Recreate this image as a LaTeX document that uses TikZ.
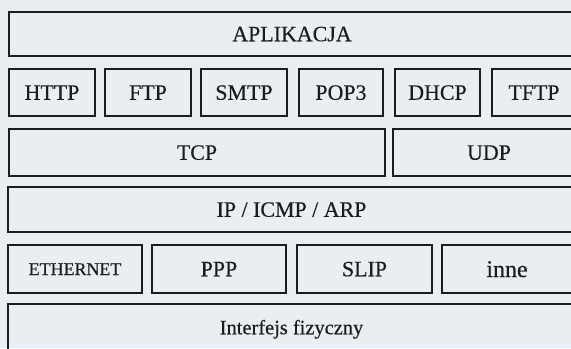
\documentclass[tikz,border=0pt]{standalone}
\usepackage{fontspec}
\setmainfont{Liberation Serif}[FakeBold=0.35]
\definecolor{paper}{RGB}{233,238,242}
\definecolor{ink}{RGB}{28,28,30}
\tikzset{
  layerbox/.style={draw=ink, line width=1.2pt, rectangle, inner sep=0pt, outer sep=0pt,
    anchor=north west, text=ink, font=\fontsize{22}{24}\selectfont, text height=14.5bp, text depth=0pt},
  smalltext/.style={font=\fontsize{18}{20}\selectfont, text height=12bp},
  widetext/.style={font=\fontsize{24}{26}\selectfont, text height=16bp}
}
\newcommand{\lbox}[7][]{% [extra] name x1 y1 x2 y2 text
  \node[layerbox,#1, minimum width=#5bp-#3bp, minimum height=#6bp-#4bp] (#2) at (#3,#4) {#7};}
\begin{document}
\begin{tikzpicture}[x=1bp,y=-1bp]
\path[use as bounding box] (0,0) rectangle (571,348);
\fill[paper] (0,0) rectangle (571,348);
\begin{scope}
\clip (0,0) rectangle (571,348);
\lbox{apl}{9}{12}{575}{56}{APLIKACJA}
\lbox{http}{9}{69}{95}{116}{HTTP}
\lbox{ftp}{105}{69}{191}{116}{FTP}
\lbox{smtp}{201}{69}{287}{116}{SMTP}
\lbox{pop}{299}{69}{383}{116}{POP3}
\lbox{dhcp}{395}{69}{480}{116}{DHCP}
\lbox{tftp}{492}{69}{576}{116}{TFTP}
\lbox{tcp}{9}{129}{385}{176}{TCP}
\lbox{udp}{393}{129}{585}{176}{UDP}
\lbox{ip}{8}{187}{575}{232}{IP / ICMP / ARP}
\lbox[smalltext]{eth}{8}{245}{142}{293}{ETHERNET}
\lbox{ppp}{152}{245}{286}{293}{PPP}
\lbox{slip}{297}{245}{432}{293}{SLIP}
\lbox[widetext]{inne}{442}{245}{572}{293}{inne}
\lbox[font=\fontsize{20.5}{22}\selectfont]{phy}{8}{304}{575}{350}{Interfejs fizyczny}
\end{scope}
\end{tikzpicture}
\end{document}
